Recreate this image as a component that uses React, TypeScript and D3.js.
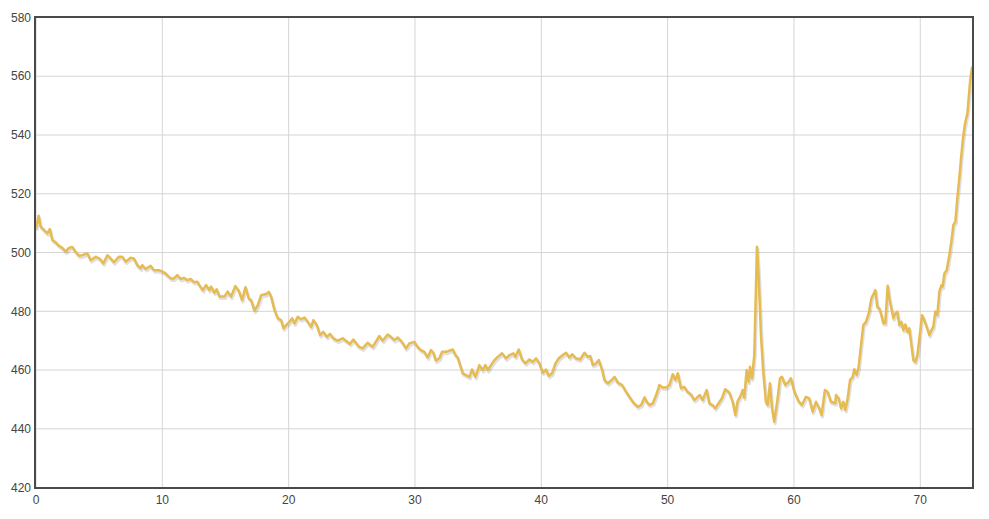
import React, { useEffect, useRef } from "react";
import * as d3 from "d3";

const days: number[] = [
  0, 0.21, 0.37, 0.63, 0.9, 1.1, 1.29, 1.55, 1.82, 2.08, 2.35, 2.61, 2.87, 3.14, 3.4, 3.67, 4.07, 4.33, 4.72, 5.07,
  5.33, 5.65, 5.91, 6.17, 6.57, 6.83, 7.1, 7.49, 7.75, 8.02, 8.28, 8.41, 8.68, 9.07, 9.34, 9.73, 10, 10.25, 10.66, 10.92,
  11.19, 11.45, 11.71, 11.98, 12.24, 12.5, 12.77, 12.93, 13.2, 13.46, 13.72, 13.86, 14.12, 14.3, 14.52, 14.91, 15.18, 15.44, 15.78, 16.05,
  16.31, 16.58, 16.84, 17.03, 17.29, 17.56, 17.82, 18.22, 18.43, 18.61, 18.88, 19.14, 19.4, 19.59, 19.8, 20.06, 20.27, 20.46, 20.72, 20.99,
  21.25, 21.52, 21.78, 21.96, 22.23, 22.49, 22.75, 23.02, 23.28, 23.54, 23.88, 24.28, 24.54, 24.86, 25.12, 25.46, 25.6, 25.86, 26.25, 26.65,
  27.18, 27.44, 27.84, 28.1, 28.37, 28.63, 28.97, 29.29, 29.55, 29.95, 30.21, 30.47, 30.74, 31, 31.27, 31.45, 31.66, 31.93, 32.14, 32.46,
  32.72, 32.99, 33.2, 33.38, 33.57, 33.78, 34.04, 34.31, 34.52, 34.78, 35.1, 35.36, 35.57, 35.76, 36.02, 36.29, 36.55, 36.89, 37.21, 37.47,
  37.79, 37.95, 38.21, 38.48, 38.75, 39.05, 39.32, 39.59, 39.85, 40.11, 40.38, 40.59, 40.85, 41.12, 41.38, 41.7, 41.96, 42.23, 42.44, 42.75,
  43.07, 43.42, 43.68, 43.87, 44.08, 44.34, 44.55, 44.82, 45, 45.27, 45.61, 45.8, 46.06, 46.4, 46.72, 46.98, 47.3, 47.64, 47.9, 48.17,
  48.35, 48.56, 48.83, 49.09, 49.35, 49.62, 49.88, 50.14, 50.41, 50.62, 50.8, 51.06, 51.32, 51.58, 51.85, 52.11, 52.38, 52.56, 52.77, 53.09,
  53.3, 53.56, 53.77, 54.04, 54.3, 54.56, 54.88, 55.15, 55.36, 55.54, 55.8, 55.94, 56.07, 56.25, 56.41, 56.52, 56.68, 56.86, 57.07, 57.2,
  57.39, 57.57, 57.78, 57.92, 58.1, 58.26, 58.44, 58.71, 58.89, 59.05, 59.31, 59.58, 59.76, 60.03, 60.37, 60.63, 60.95, 61.21, 61.48, 61.74,
  62, 62.19, 62.45, 62.66, 62.93, 63.27, 63.33, 63.54, 63.73, 63.91, 64.07, 64.25, 64.44, 64.65, 64.78, 64.97, 65.12, 65.31, 65.49, 65.7,
  65.92, 66.13, 66.29, 66.44, 66.6, 66.76, 66.92, 67.08, 67.23, 67.42, 67.55, 67.71, 67.87, 68.03, 68.18, 68.34, 68.5, 68.66, 68.82, 68.98,
  69.13, 69.3, 69.45, 69.61, 69.77, 69.93, 70.14, 70.32, 70.51, 70.72, 70.88, 71.03, 71.19, 71.35, 71.51, 71.67, 71.77, 71.91, 72.09, 72.3,
  72.46, 72.62, 72.78, 72.93, 73.09, 73.25, 73.41, 73.57, 73.73, 73.83, 73.94, 74.1,
];

const values: number[] = [
  508.2, 512.5, 508.8, 507.7, 506.5, 508, 504.3, 503.5, 502.3, 501.6, 500.3, 501.6, 501.9, 500.3, 498.9, 499.1, 499.7, 497.4, 498.6, 497.8,
  496.3, 499.1, 498, 496.7, 498.6, 498.6, 496.9, 498.2, 498, 495.7, 494.6, 495.7, 494.4, 495.5, 494, 494, 493.5, 492.9, 491.2, 491.2,
  492.3, 491, 491.4, 490.6, 491, 489.9, 490.1, 488.9, 487.2, 488.9, 487.2, 488.4, 486.3, 487.5, 485, 485, 486.7, 485, 488.6, 487,
  483.8, 488.2, 484.4, 483.8, 480.2, 482.1, 485.5, 485.9, 486.6, 485, 480.4, 477.6, 477, 474.2, 475.3, 476.4, 477.6, 475.9, 478.1, 477.3,
  477.9, 476.4, 474.7, 477, 475.3, 471.9, 473, 471.3, 472.3, 470.8, 470, 470.8, 470, 468.9, 470.4, 468.5, 467.9, 467.4, 469.3, 467.9,
  471.6, 470, 472.1, 471.3, 470.2, 471.1, 469.6, 467.4, 469.1, 469.6, 467.9, 466.8, 466.2, 464.3, 466.8, 465.9, 463.2, 464, 466.2, 466.2,
  466.6, 467, 465.1, 464.3, 461.7, 458.9, 458.3, 457.7, 460.2, 457.7, 461.7, 460, 461.7, 460, 461.7, 463.4, 464.5, 465.7, 464, 465.1,
  465.7, 464.5, 467, 463.6, 462.3, 463.6, 462.8, 464, 462.3, 459.1, 460.2, 458, 458.9, 462.3, 464, 465.1, 465.9, 464.3, 465.4, 464,
  463.6, 465.9, 464.5, 464.8, 461.7, 462.3, 463.4, 460, 456.6, 455.5, 456.8, 457.7, 455.7, 454.9, 452.6, 450.9, 448.9, 447.5, 448.1, 450.7,
  449.2, 448.1, 448.7, 451.5, 454.9, 454.1, 454.1, 454.9, 458.6, 456.6, 458.9, 453.8, 454.3, 452.6, 451.7, 449.8, 450.9, 451.5, 449.8, 453.2,
  448.7, 448.1, 447, 448.7, 450.4, 453.5, 452.4, 449.2, 444.7, 449.4, 451.5, 453.2, 450.6, 460, 456, 461.1, 457.2, 465.1, 502, 492.3,
  471.9, 459.4, 449.2, 448.1, 455.5, 447, 442.4, 450.4, 457.2, 457.7, 454.9, 456, 457.2, 452.6, 449.4, 448.1, 450.9, 450.4, 445.8, 449.2,
  447, 444.7, 453.2, 452.6, 449.2, 448.7, 451.5, 450.4, 447, 449.2, 446.4, 450.4, 456.6, 457.7, 460.3, 458.3, 461.1, 468.5, 475.3, 476.4,
  479.3, 484.4, 485.8, 487.2, 481.5, 481, 478.7, 475.9, 475.9, 488.7, 484.4, 481, 477.6, 479.3, 479.9, 475.3, 476.4, 473.6, 475.5, 473,
  474.2, 468.5, 463.4, 462.8, 465.1, 470.8, 478.7, 477, 474.7, 471.9, 473.6, 474.7, 479.9, 478.7, 486.7, 488.9, 488.4, 492.9, 494, 499.1,
  503.7, 509.4, 510.5, 518.4, 525.3, 533.2, 540, 544.5, 547.4, 552.5, 558.1, 563.3,
];

const xTicks: number[] = [0, 10, 20, 30, 40, 50, 60, 70];
const yTicks: number[] = [420, 440, 460, 480, 500, 520, 540, 560, 580];

const W = 989;
const H = 519;
const left = 36;
const right = 972.7;
const top = 17.5;
const bottom = 487.6;

export default function App() {
  const ref = useRef<SVGSVGElement | null>(null);

  useEffect(() => {
    const svg = d3.select(ref.current);
    svg.selectAll("*").remove();

    const x = d3.scaleLinear().domain([0, 74.15]).range([left, right]);
    const y = d3.scaleLinear().domain([420, 580]).range([bottom, top]);

    const data = days.map((d, i) => ({ d, v: values[i] }));

    const g = svg.append("g");

    // grid
    g.selectAll("line.vg")
      .data(xTicks)
      .join("line")
      .attr("x1", (d) => x(d))
      .attr("x2", (d) => x(d))
      .attr("y1", top)
      .attr("y2", bottom)
      .attr("stroke", "#d4d4d4")
      .attr("stroke-width", 1);
    g.selectAll("line.hg")
      .data(yTicks)
      .join("line")
      .attr("x1", left)
      .attr("x2", right)
      .attr("y1", (d) => y(d))
      .attr("y2", (d) => y(d))
      .attr("stroke", "#d4d4d4")
      .attr("stroke-width", 1);

    const line = d3
      .line<{ d: number; v: number }>()
      .x((p) => x(p.d))
      .y((p) => y(p.v));

    svg
      .append("path")
      .datum(data)
      .attr("d", line)
      .attr("fill", "none")
      .attr("stroke", "rgba(0,0,0,0.12)")
      .attr("stroke-width", 3)
      .attr("stroke-linejoin", "round")
      .attr("transform", "translate(1,2)");

    svg
      .append("path")
      .datum(data)
      .attr("d", line)
      .attr("fill", "none")
      .attr("stroke", "#e6bb52")
      .attr("stroke-width", 2.5)
      .attr("stroke-linejoin", "round");

    // frame
    svg
      .append("rect")
      .attr("x", 35)
      .attr("y", 17)
      .attr("width", 938)
      .attr("height", 471)
      .attr("fill", "none")
      .attr("stroke", "#4a4a4a")
      .attr("stroke-width", 2);

    // labels
    svg
      .selectAll("text.yl")
      .data(yTicks)
      .join("text")
      .attr("x", 31)
      .attr("y", (d) => y(d))
      .attr("dy", "0.35em")
      .attr("text-anchor", "end")
      .attr("font-family", "'Liberation Sans', Arial, Helvetica, sans-serif")
      .attr("font-size", 12)
      .attr("fill", "#444")
      .text((d) => String(d));

    svg
      .selectAll("text.xl")
      .data(xTicks)
      .join("text")
      .attr("x", (d) => x(d))
      .attr("y", 503.5)
      .attr("text-anchor", "middle")
      .attr("font-family", "'Liberation Sans', Arial, Helvetica, sans-serif")
      .attr("font-size", 12)
      .attr("fill", "#444")
      .text((d) => String(d));
  }, []);

  return (
    <svg
      ref={ref}
      width={W}
      height={H}
      style={{ position: "absolute", left: 0, top: 0, background: "#fff" }}
    />
  );
}
